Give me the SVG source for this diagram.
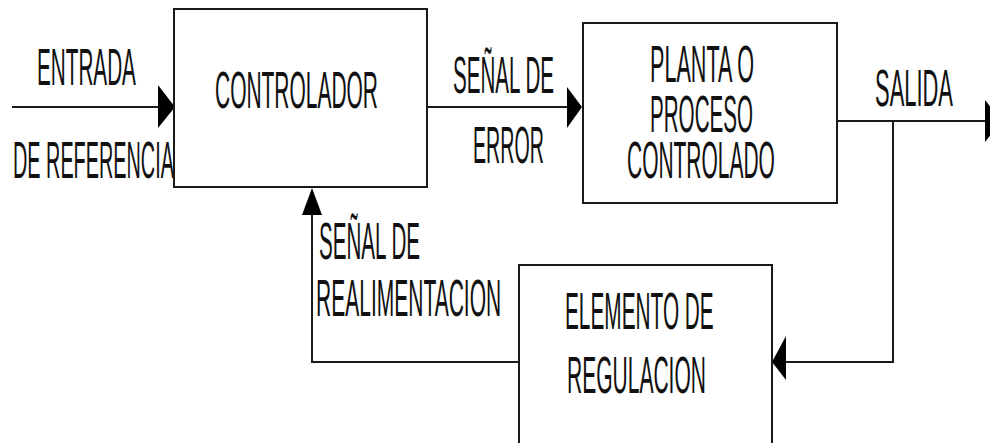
<svg xmlns="http://www.w3.org/2000/svg" width="990" height="443" viewBox="0 0 990 443">
<style>
.box{fill:#fff;stroke:#1a1a1a;stroke-width:2}
.ln{fill:none;stroke:#1a1a1a;stroke-width:2}
.ah{fill:#000;stroke:none}
text{font-family:"Liberation Sans",Arial,sans-serif;font-size:51px;fill:#111}
</style>
<rect width="990" height="443" fill="#fff"/>
<g id="connectors">
<line class="ln" x1="12" y1="107" x2="160" y2="107"/>
<polygon class="ah" points="158,85 175,107 158,128"/>
<line class="ln" x1="427" y1="107" x2="569" y2="107"/>
<polygon class="ah" points="567,87 582,107 567,128"/>
<line class="ln" x1="837" y1="121" x2="987" y2="121"/>
<polygon class="ah" points="985,100 1002,121 985,142"/>
<polyline class="ln" points="893,121 893,362 784,362"/>
<polygon class="ah" points="786,336 772,362 786,380"/>
<polyline class="ln" points="519,362 312,362 312,213"/>
<polygon class="ah" points="302,215 312,188 322,215"/>
<text transform="translate(37,85) scale(0.406,1)">ENTRADA</text>
<text transform="translate(13,178) scale(0.389,1)">DE REFERENCIA</text>
<text transform="translate(453,93) scale(0.404,1)">SEÑAL DE</text>
<text transform="translate(473,163) scale(0.385,1)">ERROR</text>
<text transform="translate(875,106) scale(0.43,1)">SALIDA</text>
<text transform="translate(319,259) scale(0.404,1)">SEÑAL DE</text>
<text transform="translate(316,316) scale(0.412,1)">REALIMENTACION</text>
</g>
<g id="controlador">
<rect class="box" x="174" y="9" width="253" height="178"/>
<text transform="translate(215,108) scale(0.411,1)">CONTROLADOR</text>
</g>
<g id="planta">
<rect class="box" x="583" y="23" width="254" height="180"/>
<text transform="translate(650,82) scale(0.424,1)">PLANTA O</text>
<text transform="translate(650,132) scale(0.404,1)">PROCESO</text>
<text transform="translate(627,178) scale(0.411,1)">CONTROLADO</text>
</g>
<g id="elemento">
<rect class="box" x="519" y="265" width="253" height="200"/>
<text transform="translate(565,329) scale(0.408,1)">ELEMENTO DE</text>
<text transform="translate(567,393) scale(0.412,1)">REGULACION</text>
</g>
</svg>
